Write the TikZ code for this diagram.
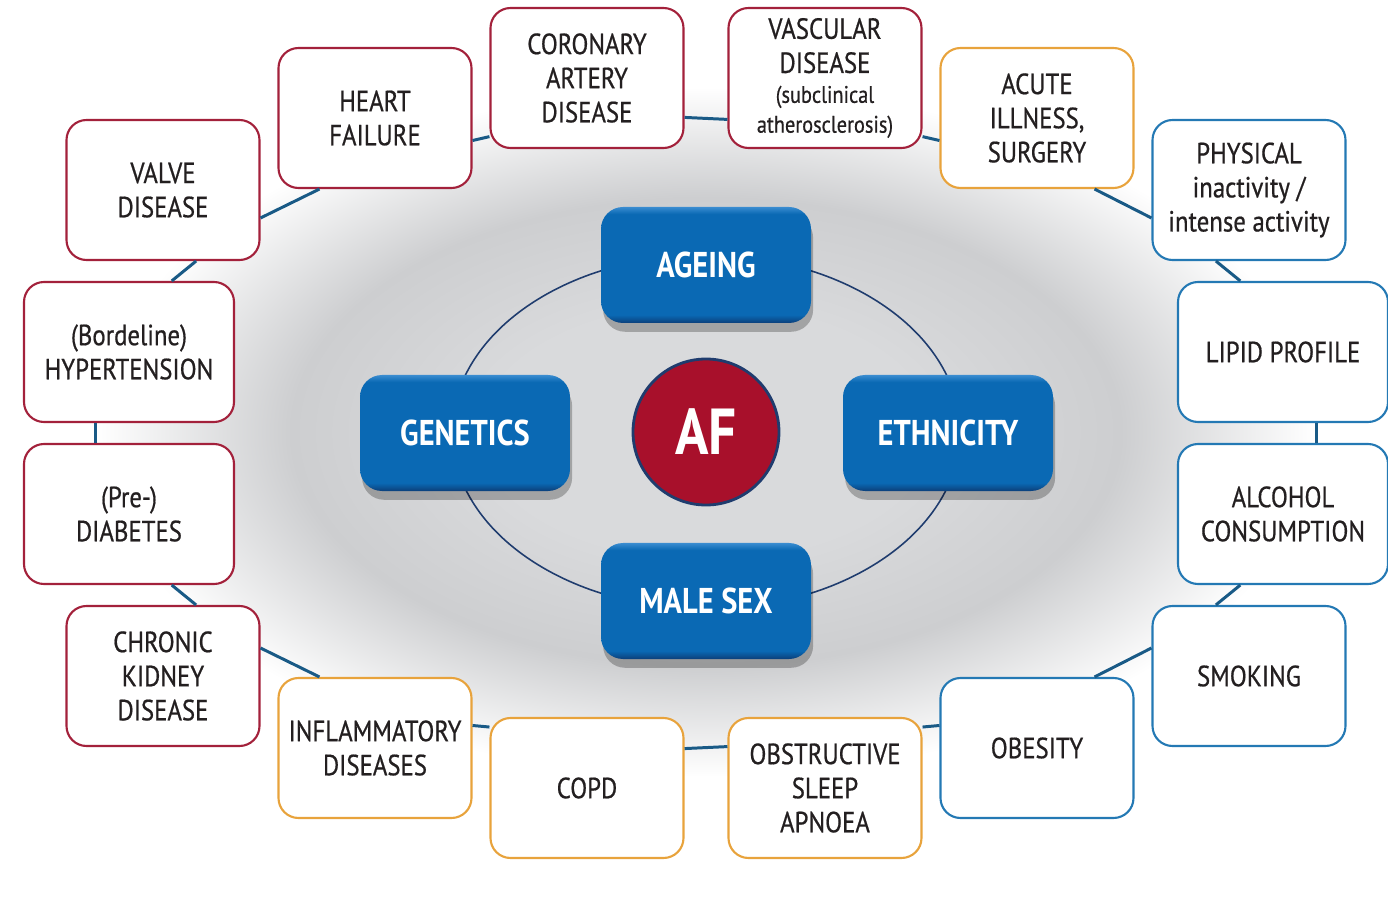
\documentclass[tikz,border=0pt]{standalone}
\usepackage{fontspec}
\setmainfont{PT Sans}[FakeStretch=0.85, UprightFeatures={FakeBold=0.6}]
\usetikzlibrary{shadows}

\definecolor{riskred}{HTML}{A3213B}
\definecolor{riskorange}{HTML}{E8A33C}
\definecolor{riskblue}{HTML}{2479B4}
\definecolor{linkblue}{HTML}{195A86}
\definecolor{ringnavy}{HTML}{1F3C6E}
\definecolor{boxblue}{HTML}{0A69B4}
\definecolor{boxlight}{HTML}{3A8CD0}
\definecolor{boxdark}{HTML}{0B3F7A}
\definecolor{afred}{HTML}{A8102B}
\definecolor{inkgray}{HTML}{231F20}
\definecolor{halocentre}{HTML}{D9DADC}
\definecolor{halomid}{HTML}{CDCED0}

\pgfdeclareradialshading{halo}{\pgfpoint{0bp}{0bp}}{color(0bp)=(halocentre); color(9bp)=(halocentre); color(17bp)=(halomid); color(25bp)=(white); color(50bp)=(white)}
\pgfdeclareverticalshading{bluebox}{100bp}{color(0bp)=(boxdark); color(25bp)=(boxdark); color(28.5bp)=(boxblue); color(72bp)=(boxblue); color(75bp)=(boxlight); color(100bp)=(boxlight)}

\begin{document}
\begin{tikzpicture}[
    risk/.style={draw, line width=0.6pt, fill=white, rounded corners=0.2cm,
        minimum width=1.93cm, minimum height=1.40cm, inner sep=1pt,
        align=center, text=inkgray, font=\fontsize{8.3}{9.7}\selectfont},
    redrisk/.style={risk, draw=riskred},
    orangerisk/.style={risk, draw=riskorange},
    bluerisk/.style={risk, draw=riskblue},
    wide/.style={minimum width=2.10cm},
    link/.style={linkblue, line width=0.85pt},
    core/.style={shade, shading=bluebox, rounded corners=0.22cm,
        minimum width=2.10cm, minimum height=1.16cm, text=white,
        font=\fontsize{10.2}{12}\selectfont\bfseries,
        drop shadow={shadow xshift=0.6pt, shadow yshift=-2.5pt, opacity=0.25, fill=black}},
]
    \useasboundingbox (0,0) rectangle (13.88,9);
    \coordinate (hub) at (7.06,4.68);

    % Grey halo behind the centre
    \shade[shading=halo] (hub) ellipse [x radius=6.1cm, y radius=3.45cm];

    % Inner ring
    \draw[ringnavy, line width=0.45pt] (hub) ellipse [x radius=2.54cm, y radius=1.77cm];

    % Outer ring of risk factors
    \node[redrisk] (cad) at (5.87,8.22) {CORONARY\\ARTERY\\DISEASE};
    \node[redrisk] (vasc) at (8.25,8.22) {VASCULAR\\DISEASE\\[-1.2pt]{\fontsize{6.8}{8}\selectfont (subclinical}\\[-1.2pt]{\fontsize{6.8}{8}\selectfont atherosclerosis)}};
    \node[redrisk] (hf) at (3.75,7.82) {HEART\\FAILURE};
    \node[orangerisk] (acute) at (10.37,7.82) {ACUTE\\ILLNESS,\\SURGERY};
    \node[redrisk] (valve) at (1.63,7.10) {VALVE\\DISEASE};
    \node[bluerisk] (phys) at (12.49,7.10) {PHYSICAL\\inactivity /\\intense activity};
    \node[redrisk, wide] (htn) at (1.29,5.48) {(Bordeline)\\HYPERTENSION};
    \node[bluerisk, wide] (lipid) at (12.83,5.48) {LIPID PROFILE};
    \node[redrisk, wide] (diab) at (1.29,3.86) {(Pre-)\\DIABETES};
    \node[bluerisk, wide] (alc) at (12.83,3.86) {ALCOHOL\\CONSUMPTION};
    \node[redrisk] (ckd) at (1.63,2.24) {CHRONIC\\KIDNEY\\DISEASE};
    \node[bluerisk] (smok) at (12.49,2.24) {SMOKING};
    \node[orangerisk] (infl) at (3.75,1.52) {INFLAMMATORY\\DISEASES};
    \node[bluerisk] (obes) at (10.37,1.52) {OBESITY};
    \node[orangerisk] (copd) at (5.87,1.12) {COPD};
    \node[orangerisk] (osa) at (8.25,1.12) {OBSTRUCTIVE\\SLEEP\\APNOEA};

    % Links between neighbours
    \draw[link] (hf.-13) -- (cad.211);
    \draw[link] (cad.-22) -- (vasc.203);
    \draw[link] (vasc.-31) -- (acute.193);
    \draw[link] (acute.-51) -- (phys.196);
    \draw[link] (phys.245) -- (lipid.121);
    \draw[link] (lipid.-65) -- (alc.65);
    \draw[link] (alc.239) -- (smok.115);
    \draw[link] (smok.164) -- (obes.51);
    \draw[link] (obes.167) -- (osa.32);
    \draw[link] (osa.157) -- (copd.22);
    \draw[link] (copd.148) -- (infl.13);
    \draw[link] (infl.128) -- (ckd.16);
    \draw[link] (ckd.65) -- (diab.-59);
    \draw[link] (diab.115) -- (htn.245);
    \draw[link] (htn.59) -- (valve.-65);
    \draw[link] (valve.-16) -- (hf.232);

    % Non-modifiable factors
    \node[core] (ageing) at (7.06,6.35) {AGEING};
    \node[core] (genetics) at (4.65,4.67) {GENETICS};
    \node[core] (ethnicity) at (9.48,4.67) {ETHNICITY};
    \node[core] (malesex) at (7.06,2.99) {MALE SEX};

    % Centre
    \node[circle, fill=afred, draw=ringnavy, line width=0.8pt, minimum size=1.46cm,
        text=white, font=\fontsize{18.5}{20}\selectfont\bfseries] (af) at (hub) {AF};
\end{tikzpicture}
\end{document}
